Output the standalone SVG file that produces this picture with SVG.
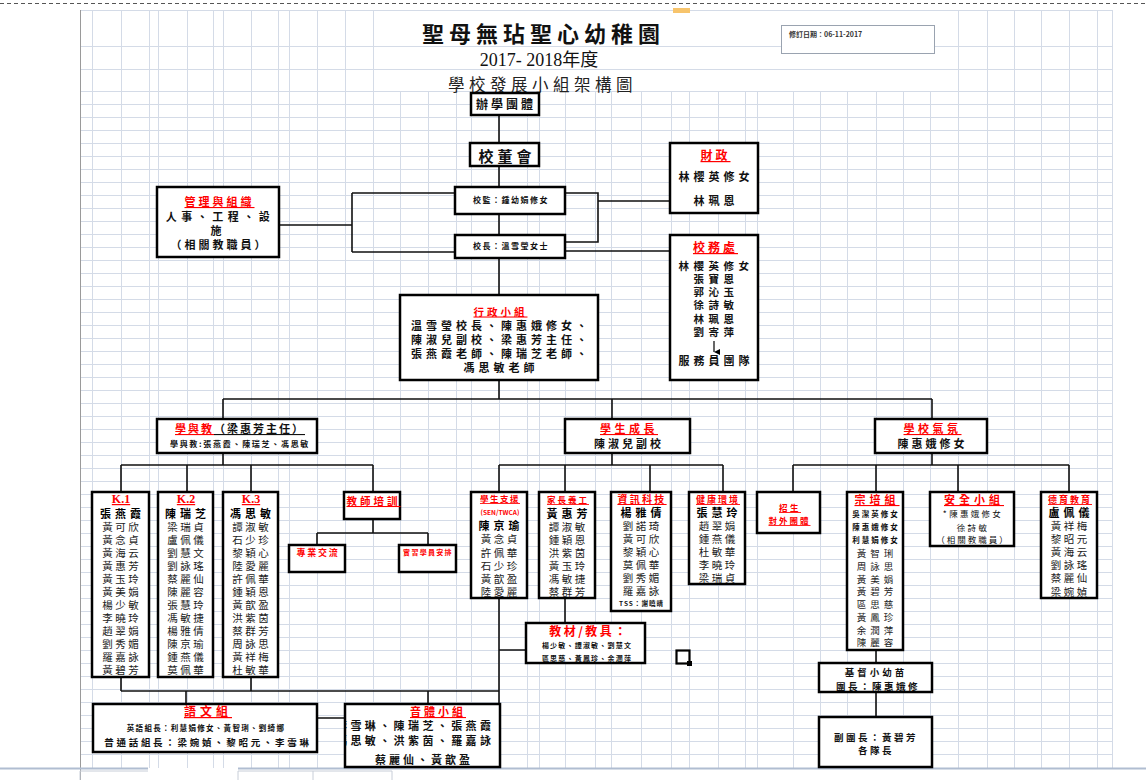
<svg xmlns="http://www.w3.org/2000/svg" width="1146" height="780" viewBox="0 0 1146 780">
<defs>
<style>
text{font-family:"Noto Sans CJK TC","Noto Sans CJK SC","Liberation Sans",sans-serif;text-anchor:middle;fill:#111}
.sf{font-family:"Liberation Serif","Noto Sans CJK TC",serif}
.grid{stroke:#d4dbe7;stroke-width:1;fill:none}
.box{fill:#fff;stroke:#000;stroke-width:2.5}
.ln{stroke:#111;stroke-width:1.6;fill:none}
.r{fill:#ff0000;font-weight:bold;text-decoration:underline}
.nm{font-size:10.5px;letter-spacing:2.5px;fill:#222}
.ld{font-size:11px;letter-spacing:4px;font-weight:bold;fill:#000}
.h{font-size:11px;letter-spacing:4px;font-weight:bold}
.o{font-size:10.5px;letter-spacing:4.5px;font-weight:bold}
.s{font-size:7.5px;letter-spacing:1.5px;font-weight:bold}
</style>
<clipPath id="cp"><rect x="346" y="705" width="153" height="61"/></clipPath>
<marker id="ah" viewBox="0 0 8 8" refX="4" refY="8" markerWidth="6" markerHeight="6" orient="auto-start-reverse" markerUnits="userSpaceOnUse"><path d="M0 0L4 8L8 0Z" fill="#000"/></marker>
</defs>
<rect width="1146" height="780" fill="#fff"/>
<g id="grid" class="grid">
<path d="M80.5 10V768M92.5 10V768M121.5 10V768M149.5 10V768M158.5 10V768M187.5 10V768M213.5 10V768M223.5 10V768M251.5 10V768M278.5 10V768M289.5 10V768M317.5 10V768M345.5 10V768M373.5 10V768M400.5 91V768M428.5 91V768M456.5 91V768M471.5 91V768M499.5 91V768M527.5 91V768M539.5 91V768M565.5 91V768M595.5 91V768M611.5 91V768M641.5 91V768M671.5 91V768M689.5 91V768M718.5 91V768M745.5 91V768M757.5 91V768M793.5 91V768M820.5 91V768M847.5 91V768M876.5 91V768M903.5 91V768M930.5 91V768M958.5 10V768M987.5 10V768M1014.5 10V768M1041.5 10V768M1069.5 10V768M1097.5 10V768M1112.5 10V768"/>
<path d="M80 10.5H1112M80 46.5H1112M80 69.5H1112M80 91.5H1112M80 104.5H1112M80 117.5H1112M80 130.5H1112M80 143.5H1112M80 156.5H1112M80 169.5H1112M80 182.5H1112M80 195.5H1112M80 208.5H1112M80 221.5H1112M80 234.5H1112M80 247.5H1112M80 260.5H1112M80 273.5H1112M80 286.5H1112M80 299.5H1112M80 312.5H1112M80 325.5H1112M80 338.5H1112M80 351.5H1112M80 364.5H1112M80 377.5H1112M80 390.5H1112M80 403.5H1112M80 416.5H1112M80 429.5H1112M80 442.5H1112M80 455.5H1112M80 468.5H1112M80 481.5H1112M80 494.5H1112M80 507.5H1112M80 520.5H1112M80 533.5H1112M80 546.5H1112M80 559.5H1112M80 572.5H1112M80 585.5H1112M80 598.5H1112M80 611.5H1112M80 624.5H1112M80 637.5H1112M80 650.5H1112M80 663.5H1112M80 676.5H1112M80 689.5H1112M80 702.5H1112M80 715.5H1112M80 728.5H1112M80 741.5H1112M80 754.5H1112"/>
</g>
<g id="frame">
<path d="M0 3.5H1146" stroke="#555" stroke-width="1.2" stroke-dasharray="4 3"/>
<rect x="673" y="8" width="17" height="5" fill="#f7c46c"/>
<path d="M80.5 10V780" stroke="#9a9a9a" stroke-width="1"/>
<path d="M0 768.5H148M238 768.5H1146" stroke="#b0bdd1" stroke-width="2"/>
<path d="M238 780V771H313V780M313 771H392V780M80 780V771H148" stroke="#c8ced8" stroke-width="1" fill="none"/>
</g>
<g id="title">
<text x="543.5" y="42" style="font-size:22px;letter-spacing:5px;font-weight:bold">聖母無玷聖心幼稚園</text>
<text class="sf" x="539" y="66" style="font-size:18px">2017- 2018年度</text>
<text x="542.5" y="91" style="font-size:16.5px;letter-spacing:4.5px;fill:#222">學校發展小組架構圖</text>
</g>
<g id="date">
<rect x="781.5" y="25.5" width="153" height="28" fill="#fff" stroke="#9aa3b0" stroke-width="1"/>
<text x="789" y="37" style="font-size:7px;font-weight:bold;text-anchor:start;fill:#333">修訂日期：06-11-2017</text>
</g>
<g id="connectors" class="ln">
<path d="M499 115V143M499 166V187M499 214V235M499 258V295"/>
<path d="M280 225H352M352 193V252M352 193H455M352 252H455"/>
<path d="M565 193H598V242H565M598 201H670M565 251H670"/>
<path d="M499 380V399M223 399H932M223 399V419M612 399V419M932 399V419"/>
<path d="M223 453V465M121 465H373M121 465V492M187 465V492M251 465V492M373 465V492"/>
<path d="M612 453V465M499 465H723M499 465V492M565 465V492M650 465V492M723 465V492"/>
<path d="M932 453V465M793 465H1069M793 465V492M876 465V492M958 465V492M1069 465V492"/>
<path d="M373 519V533M317 533H428M317 533V545M428 533V545"/>
<path d="M121 677V691M251 677V691M121 691H499M186 691V704M428 691V704M317 718H345"/>
<path d="M499 598V704M499 650H526M565 598V623"/>
<path d="M876 650V663M876 692V717"/>
</g>
<g id="n-sponsor"><rect class="box" x="471" y="93" width="68" height="22"/><text x="506" y="109" style="font-size:12px;letter-spacing:3px;font-weight:bold">辦學團體</text></g>
<g id="n-board"><rect class="box" x="470" y="143" width="69" height="23"/><text x="507" y="162" style="font-size:15px;letter-spacing:4px;font-weight:bold">校董會</text></g>
<g id="n-supervisor"><rect class="box" x="455" y="187" width="110" height="27"/><text x="511" y="203" style="font-size:8px;letter-spacing:1.5px;font-weight:bold">校監：鍾幼娟修女</text></g>
<g id="n-principal"><rect class="box" x="455" y="235" width="110" height="23"/><text x="511" y="249" style="font-size:8px;letter-spacing:1.5px;font-weight:bold">校長：溫雪瑩女士</text></g>
<g id="n-mgmt"><rect class="box" x="157" y="187" width="122" height="70"/>
<text class="r" x="219.5" y="206" style="font-size:11px;letter-spacing:3px">管理與組織</text>
<text class="h" x="220" y="221" style="letter-spacing:4.5px">人事、工程、設</text>
<text class="h" x="218" y="235">施</text>
<text class="h" x="219.5" y="249" style="letter-spacing:3px">（相關教職員）</text></g>
<g id="n-finance"><rect class="box" x="670" y="143" width="88" height="70"/>
<text class="r" x="715.5" y="160" style="font-size:12px;letter-spacing:3px">財政</text>
<text class="h" x="716" y="181">林櫻英修女</text>
<text class="h" x="716" y="205">林珮恩</text></g>
<g id="n-office"><rect class="box" x="670" y="235" width="88" height="145"/>
<text class="r" x="715.5" y="252" style="font-size:12px;letter-spacing:3px">校務處</text>
<text class="o" x="716" y="270">林櫻英修女</text>
<text class="o" x="716" y="283">張寶恩</text>
<text class="o" x="716" y="296">郭沁玉</text>
<text class="o" x="716" y="309">徐詩敏</text>
<text class="o" x="716" y="322.5">林珮恩</text>
<text class="o" x="716" y="336">劉寄萍</text>
<path d="M714 341V352" stroke="#000" stroke-width="1.2" marker-end="url(#ah)"/>
<text class="h" x="716" y="365">服務員團隊</text></g>
<g id="n-admin"><rect class="box" x="400" y="295" width="198" height="85"/>
<text class="r" x="500.5" y="315.5" style="font-size:10.5px;letter-spacing:3px">行政小組</text>
<text class="h" x="501" y="330">溫雪瑩校長、陳惠娥修女、</text>
<text class="h" x="501" y="344">陳淑兒副校、梁惠芳主任、</text>
<text class="h" x="501" y="358">張燕霞老師、陳瑞芝老師、</text>
<text class="h" x="501" y="372">馮思敏老師</text></g>
<g id="n-lt"><rect class="box" x="157" y="419" width="160" height="34"/>
<text x="240" y="433" style="font-size:11px;letter-spacing:2px;font-weight:bold"><tspan class="r">學與教</tspan><tspan style="text-decoration:underline">（梁惠芳主任）</tspan></text>
<text x="240" y="447" style="font-size:8px;letter-spacing:1.7px;font-weight:bold">學與教:張燕霞、陳瑞芝、馮思敏</text></g>
<g id="n-growth"><rect class="box" x="565" y="419" width="125" height="34"/>
<text class="r" x="629" y="433" style="font-size:11px;letter-spacing:3.5px">學生成長</text>
<text class="h" x="629" y="448" style="letter-spacing:3px">陳淑兒副校</text></g>
<g id="n-climate"><rect class="box" x="875" y="419" width="112" height="34"/>
<text class="r" x="932.5" y="433" style="font-size:11px;letter-spacing:3.5px">學校氣氛</text>
<text class="h" x="932.5" y="448" style="letter-spacing:3px">陳惠娥修女</text></g>
<g id="n-k1"><rect class="box" x="92" y="492" width="57" height="185"/>
<text class="r sf" x="121" y="503" style="font-size:12px">K.1</text>
<text class="ld" x="122.5" y="518">張燕霞</text>
<text class="nm" x="121.8" y="531"><tspan x="121.8">黃可欣</tspan><tspan x="121.8" dy="13">黃念貞</tspan><tspan x="121.8" dy="13">黃海云</tspan><tspan x="121.8" dy="13">黃惠芳</tspan><tspan x="121.8" dy="13">黃玉玲</tspan><tspan x="121.8" dy="13">黃美娟</tspan><tspan x="121.8" dy="13">楊少敏</tspan><tspan x="121.8" dy="13">李曉玲</tspan><tspan x="121.8" dy="13">趙翠娟</tspan><tspan x="121.8" dy="13">劉秀媚</tspan><tspan x="121.8" dy="13">羅嘉詠</tspan><tspan x="121.8" dy="13">黃碧芳</tspan></text></g>
<g id="n-k2"><rect class="box" x="158" y="492" width="55" height="185"/>
<text class="r sf" x="186" y="503" style="font-size:12px">K.2</text>
<text class="ld" x="187.5" y="518">陳瑞芝</text>
<text class="nm" x="186.8" y="531"><tspan x="186.8">梁瑞貞</tspan><tspan x="186.8" dy="13">盧佩儀</tspan><tspan x="186.8" dy="13">劉慧文</tspan><tspan x="186.8" dy="13">劉詠瑤</tspan><tspan x="186.8" dy="13">蔡麗仙</tspan><tspan x="186.8" dy="13">陳麗容</tspan><tspan x="186.8" dy="13">張慧玲</tspan><tspan x="186.8" dy="13">馮敏捷</tspan><tspan x="186.8" dy="13">楊雅倩</tspan><tspan x="186.8" dy="13">陳京瑜</tspan><tspan x="186.8" dy="13">鍾燕儀</tspan><tspan x="186.8" dy="13">莫佩華</tspan></text></g>
<g id="n-k3"><rect class="box" x="223" y="492" width="55" height="185"/>
<text class="r sf" x="251" y="503" style="font-size:12px">K.3</text>
<text class="ld" x="252.5" y="518">馮思敏</text>
<text class="nm" x="251.8" y="531"><tspan x="251.8">譚淑敏</tspan><tspan x="251.8" dy="13">石少珍</tspan><tspan x="251.8" dy="13">黎穎心</tspan><tspan x="251.8" dy="13">陸愛麗</tspan><tspan x="251.8" dy="13">許佩華</tspan><tspan x="251.8" dy="13">鍾穎恩</tspan><tspan x="251.8" dy="13">黃歆盈</tspan><tspan x="251.8" dy="13">洪紫茵</tspan><tspan x="251.8" dy="13">蔡群芳</tspan><tspan x="251.8" dy="13">周詠思</tspan><tspan x="251.8" dy="13">黃祥梅</tspan><tspan x="251.8" dy="13">杜敏華</tspan></text></g>
<g id="n-training"><rect class="box" x="344" y="492" width="56" height="27"/>
<text class="r" x="373.5" y="505" style="font-size:10.5px;letter-spacing:3px">教師培訓</text></g>
<g id="n-exchange"><rect class="box" x="289" y="545" width="56" height="27"/>
<text class="r" x="318" y="556" style="font-size:9px;letter-spacing:1.8px;text-decoration:none">專業交流</text></g>
<g id="n-intern"><rect class="box" x="399" y="545" width="57" height="27"/>
<text class="r" x="428" y="555" style="font-size:7px;letter-spacing:1.3px;text-decoration:none">實習學員安排</text></g>
<g id="n-support"><rect class="box" x="471" y="492" width="56" height="106"/>
<text class="r" x="500" y="502" style="font-size:8.5px;letter-spacing:1.5px">學生支援</text>
<text x="500" y="515" style="font-size:6.5px;font-weight:bold;fill:#f00">(SEN/TWCA)</text>
<text class="ld" x="501" y="530">陳京瑜</text>
<text class="nm" x="500.2" y="543"><tspan x="500.2">黃念貞</tspan><tspan x="500.2" dy="13.5">許佩華</tspan><tspan x="500.2" dy="13">石少珍</tspan><tspan x="500.2" dy="13">黃歆盈</tspan><tspan x="500.2" dy="13">陸愛麗</tspan></text></g>
<g id="n-parents"><rect class="box" x="539" y="492" width="56" height="106"/>
<text class="r" x="568" y="503" style="font-size:8.5px;letter-spacing:2px">家長義工</text>
<text class="ld" x="569" y="518">黃惠芳</text>
<text class="nm" x="568.2" y="531"><tspan x="568.2">譚淑敏</tspan><tspan x="568.2" dy="13">鍾穎恩</tspan><tspan x="568.2" dy="13">洪紫茵</tspan><tspan x="568.2" dy="13">黃玉玲</tspan><tspan x="568.2" dy="13">馮敏捷</tspan><tspan x="568.2" dy="13">蔡群芳</tspan></text></g>
<g id="n-it"><rect class="box" x="611" y="492" width="60" height="119"/>
<text class="r" x="642" y="503" style="font-size:10px;letter-spacing:2.3px">資訊科技</text>
<text class="ld" x="643" y="517">楊雅倩</text>
<text class="nm" x="642.2" y="530"><tspan x="642.2">劉諾琦</tspan><tspan x="642.2" dy="13">黃可欣</tspan><tspan x="642.2" dy="13">黎穎心</tspan><tspan x="642.2" dy="13">莫佩華</tspan><tspan x="642.2" dy="13">劉秀媚</tspan><tspan x="642.2" dy="13">羅嘉詠</tspan></text>
<text x="641.5" y="606" style="font-size:6.5px;letter-spacing:1px;font-weight:bold">TSS：謝曉晴</text></g>
<g id="n-env"><rect class="box" x="689" y="492" width="56" height="92"/>
<text class="r" x="718" y="503" style="font-size:9px;letter-spacing:2px">健康環境</text>
<text class="ld" x="719" y="517">張慧玲</text>
<text class="nm" x="718.2" y="530"><tspan x="718.2">趙翠娟</tspan><tspan x="718.2" dy="13">鍾燕儀</tspan><tspan x="718.2" dy="13">杜敏華</tspan><tspan x="718.2" dy="13">李曉玲</tspan><tspan x="718.2" dy="13">梁瑞貞</tspan></text></g>
<g id="n-admission"><rect class="box" x="757" y="492" width="63" height="41"/>
<text class="r" x="790" y="511" style="font-size:8.5px;letter-spacing:2.5px">招生</text>
<text class="r" x="789.5" y="524" style="font-size:8.5px;letter-spacing:2px">對外團體</text></g>
<g id="n-religion"><rect class="box" x="847" y="492" width="56" height="158"/>
<text class="r" x="877" y="504" style="font-size:11px;letter-spacing:4px">宗培組</text>
<text class="s" x="876" y="517" style="letter-spacing:2px">吳潔英修女</text>
<text class="s" x="876" y="530" style="letter-spacing:2px">陳惠娥修女</text>
<text class="s" x="876" y="543" style="letter-spacing:2px">利慧娟修女</text>
<text class="nm" x="877" y="557" style="font-size:9.5px;letter-spacing:4px"><tspan x="877">黃智琍</tspan><tspan x="877" dy="13">周詠思</tspan><tspan x="877" dy="12.5">黃美娟</tspan><tspan x="877" dy="12.5">黃碧芳</tspan><tspan x="877" dy="13">區思慈</tspan><tspan x="877" dy="13">黃鳳珍</tspan><tspan x="877" dy="12.5">余潤萍</tspan><tspan x="877" dy="12.5">陳麗容</tspan></text></g>
<g id="n-safety"><rect class="box" x="930" y="492" width="84" height="54"/>
<text class="r" x="974" y="504" style="font-size:11px;letter-spacing:4px">安全小組</text>
<text class="s" x="973" y="517" style="font-size:8.5px;letter-spacing:2.3px;font-weight:normal">*陳惠娥修女</text>
<text class="s" x="973" y="531" style="font-size:8.5px;letter-spacing:2.3px;font-weight:normal">徐詩敏</text>
<text class="s" x="973" y="543" style="font-size:8.5px;letter-spacing:2px;font-weight:normal">（相關教職員）</text></g>
<g id="n-moral"><rect class="box" x="1041" y="492" width="56" height="106"/>
<text class="r" x="1070" y="503" style="font-size:9px;letter-spacing:2px">德育教育</text>
<text class="ld" x="1071" y="517">盧佩儀</text>
<text class="nm" x="1070.2" y="530"><tspan x="1070.2">黃祥梅</tspan><tspan x="1070.2" dy="13">黎昭元</tspan><tspan x="1070.2" dy="13">黃海云</tspan><tspan x="1070.2" dy="13">劉詠瑤</tspan><tspan x="1070.2" dy="13">蔡麗仙</tspan><tspan x="1070.2" dy="13.5">梁婉媜</tspan></text></g>
<g id="n-materials"><rect class="box" x="526" y="623" width="119" height="40"/>
<text class="r" x="589" y="636" style="font-size:12px;letter-spacing:2.5px;text-decoration:none">教材/教具：</text>
<text class="s" x="587" y="648" style="font-size:7px;letter-spacing:1.2px">楊少敏、譚淑敏、劉慧文</text>
<text class="s" x="587" y="661" style="font-size:7px;letter-spacing:1.2px">區思慈、黃鳳珍、余潤萍</text></g>
<g id="n-cursor"><rect x="676.5" y="650.5" width="13" height="13" fill="none" stroke="#000" stroke-width="2.2"/><rect x="687" y="661" width="5" height="5" fill="#000"/></g>
<g id="n-scouts"><rect class="box" x="819" y="663" width="113" height="29"/>
<text x="876" y="676" style="font-size:9.5px;letter-spacing:3px;font-weight:bold">基督小幼苗</text>
<text x="878" y="690" style="font-size:9.5px;letter-spacing:2.5px;font-weight:bold">團長：陳惠娥修</text></g>
<g id="n-vice"><rect class="box" x="819" y="717" width="113" height="50"/>
<text x="876" y="741" style="font-size:9.5px;letter-spacing:2.5px;font-weight:bold">副團長：黃碧芳</text>
<text x="876" y="754" style="font-size:9.5px;letter-spacing:2.5px;font-weight:bold">各隊長</text></g>
<g id="n-lang"><rect class="box" x="93" y="704" width="224" height="48"/>
<text class="r" x="208" y="716" style="font-size:12px;letter-spacing:4px">語文組</text>
<text class="s" x="206" y="731" style="font-size:7.5px;letter-spacing:1.3px">英語組長：利慧娟修女、黃智琍、劉綺娜</text>
<text x="208" y="746" style="font-size:9.5px;letter-spacing:2.7px;font-weight:bold">普通話組長：梁婉媜、黎昭元、李雪琳</text></g>
<g id="n-music"><rect class="box" x="345" y="704" width="155" height="63"/>
<text class="r" x="438" y="716" style="font-size:11px;letter-spacing:3px">音體小組</text>
<g clip-path="url(#cp)">
<text x="336" y="730" style="font-size:11px;letter-spacing:3.4px;font-weight:bold;text-anchor:start">李雪琳、陳瑞芝、張燕霞</text>
<text x="336" y="745" style="font-size:11px;letter-spacing:3.4px;font-weight:bold;text-anchor:start">馮思敏、洪紫茵、羅嘉詠</text>
</g>
<text x="424" y="764" style="font-size:11px;letter-spacing:3px;font-weight:bold">蔡麗仙、黃歆盈</text></g>
</svg>
